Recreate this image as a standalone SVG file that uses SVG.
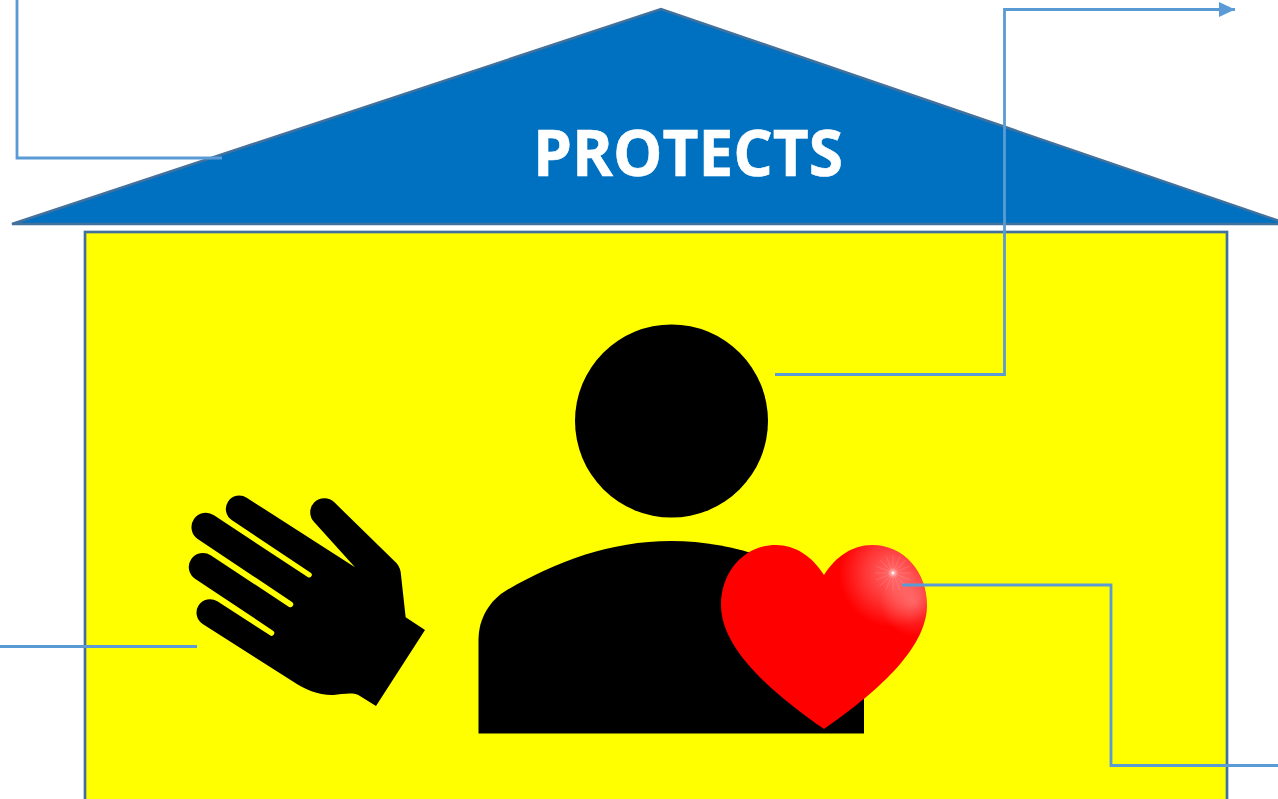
<svg xmlns="http://www.w3.org/2000/svg" width="1278" height="799" viewBox="0 0 1278 799">
<defs>
<radialGradient id="glow" gradientUnits="userSpaceOnUse" cx="893" cy="573" r="54">
<stop offset="0" stop-color="#fff" stop-opacity=".75"/>
<stop offset=".1" stop-color="#fff" stop-opacity=".38"/>
<stop offset=".55" stop-color="#fff" stop-opacity=".2"/>
<stop offset="1" stop-color="#fff" stop-opacity="0"/>
</radialGradient>
<radialGradient id="glow2" gradientUnits="userSpaceOnUse" cx="914" cy="602" r="34">
<stop offset="0" stop-color="#fff" stop-opacity=".3"/>
<stop offset="1" stop-color="#fff" stop-opacity="0"/>
</radialGradient>
<clipPath id="heartClip"><path d="M824 575C812 556 795 545 776 545C744 545 721 572 721 605C721 650 775 695 824 729C873 695 927 650 927 605C927 572 904 545 872 545C853 545 836 556 824 575Z"/></clipPath>
<marker id="arrow" markerUnits="userSpaceOnUse" markerWidth="17" markerHeight="17" refX="16" refY="8.500" orient="auto"><path d="M0 1L16 8.500L0 16Z" fill="#5B9BD5"/></marker>
</defs>
<style>
.conn{fill:none;stroke:#5B9BD5;stroke-width:2.800}
.ray{stroke:#fff;stroke-width:.6;stroke-opacity:.22}
</style>
<rect width="1278" height="799" fill="#fff"/>
<g id="roof">
<path d="M12 224L661 9L1288 224Z" fill="#0070C0" stroke="#41719C" stroke-width="2.500"/>
<text x="533" y="176" textLength="310" lengthAdjust="spacingAndGlyphs" font-family="'Open Sans', sans-serif" font-weight="700" font-size="65" fill="#fff" stroke="#fff" stroke-width=".6">PROTECTS</text>
</g>
<g id="house">
<rect x="85" y="232" width="1142" height="600" fill="#FFFF00" stroke="#41719C" stroke-width="2.700"/>
</g>
<g id="person">
<circle cx="671.500" cy="421" r="96.500" fill="#000"/>
<path d="M478.500 733.500V640C478.500 618 490 600 507 590C555 562 610 541 671 541C732 541 787 562 835 590C852 600 864 618 864 640V733.500Z" fill="#000"/>
</g>
<g id="hand">
<path transform="translate(170 480) scale(.33333)" d="M555 262L433 127A42 42 0 0 1 493 67L680 250Q692 265 693 285L707 412L765 450L618 678L565 645C545 636 515 643 490 645C445 646 405 628 370 605L98 432A40 40 0 0 1 142 364L300 466A7.500 7.500 0 0 0 309 452L75 296A40 40 0 0 1 122 226L356 380A7.500 7.500 0 0 0 366 366L83 177A40 40 0 0 1 132 106L413 291A7.500 7.500 0 0 0 422 278L186 121A40 40 0 0 1 230 53Z" fill="#000"/>
</g>
<g id="heart">
<path d="M824 575C812 556 795 545 776 545C744 545 721 572 721 605C721 650 775 695 824 729C873 695 927 650 927 605C927 572 904 545 872 545C853 545 836 556 824 575Z" fill="#FF0000"/>
<g clip-path="url(#heartClip)">
<circle cx="893" cy="573" r="54" fill="url(#glow)"/>
<circle cx="914" cy="602" r="34" fill="url(#glow2)"/>
<path class="ray" d="M893 555V591M875 573H911M880 560L906 586M906 560L880 586M886 556L900 590M900 556L886 590M876 566L910 580M876 580L910 566"/>
<circle cx="893" cy="573" r="1.200" fill="#fff"/>
</g>
</g>
<g id="connectors">
<path class="conn" d="M17 0V158H222"/>
<path class="conn" d="M775 374.500H1004.500V9.500H1235" marker-end="url(#arrow)"/>
<path class="conn" d="M0 646.500H197"/>
<path class="conn" d="M902 585H1111V765.500H1278"/>
</g>
</svg>
